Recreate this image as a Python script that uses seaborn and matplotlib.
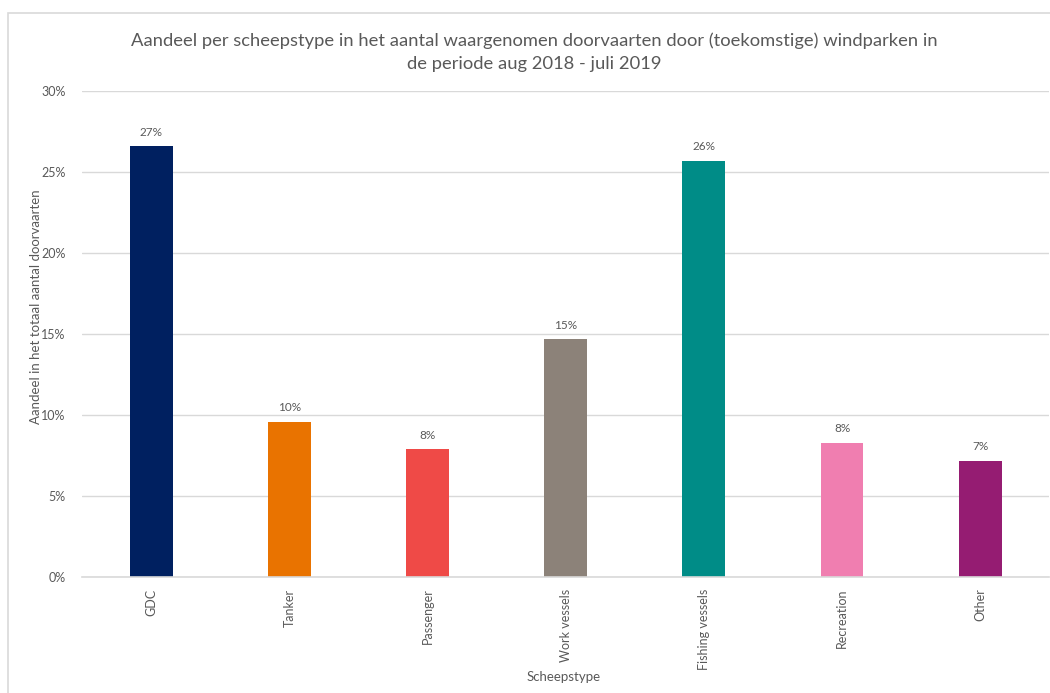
import matplotlib
matplotlib.use("Agg")
import matplotlib.pyplot as plt
import matplotlib.patches as mpatches
from matplotlib.ticker import PercentFormatter, MultipleLocator
import seaborn as sns
import pandas as pd

# Share of observed wind-farm transits per ship type (percent)
ship_types = ["GDC", "Tanker", "Passenger", "Work vessels",
              "Fishing vessels", "Recreation", "Other"]
shares = [26.6, 9.6, 7.9, 14.7, 25.7, 8.3, 7.2]
bar_colors = ["#002060", "#E97300", "#EF4A47", "#8C8279",
              "#008C87", "#F07EB0", "#951C72"]

title = ("Aandeel per scheepstype in het aantal waargenomen doorvaarten door "
         "(toekomstige) windparken in\nde periode aug 2018 - juli 2019")
y_label = "Aandeel in het totaal aantal doorvaarten"
x_label = "Scheepstype"

sns.set_theme(style="white")
plt.rcParams["font.family"] = ["Lato", "DejaVu Sans"]

text_grey = "#595959"
grid_grey = "#D9D9D9"

df = pd.DataFrame({"type": ship_types, "share": shares})

fig = plt.figure(figsize=(10.5, 6.93), dpi=100)
ax = fig.add_axes([0.0785, 0.167, 0.9207, 0.702])

sns.barplot(data=df, x="type", y="share", hue="type", palette=bar_colors,
            order=ship_types, hue_order=ship_types, dodge=False,
            legend=False, width=0.31, saturation=1, linewidth=0, ax=ax)

ax.set_ylim(0, 30)
ax.set_xlim(-0.5, len(ship_types) - 0.5)
ax.yaxis.set_major_locator(MultipleLocator(5))
ax.yaxis.set_major_formatter(PercentFormatter(decimals=0))
ax.grid(axis="y", color=grid_grey, linewidth=1)
ax.set_axisbelow(True)
for side in ("top", "right", "left"):
    ax.spines[side].set_visible(False)
ax.spines["bottom"].set_color(grid_grey)
ax.spines["bottom"].set_linewidth(1.2)

ax.tick_params(axis="y", length=0, pad=12, labelsize=9, labelcolor=text_grey)
ax.tick_params(axis="x", length=0, pad=8, labelsize=9, labelcolor=text_grey,
               labelrotation=90)

for container in ax.containers:
    ax.bar_label(container, fmt=lambda v: f"{v:.0f}%", padding=6,
                 fontsize=8.5, color=text_grey)

ax.set_xlabel("")
ax.set_ylabel("")
fig.text(0.5365, 0.023, x_label, ha="center", va="center",
         fontsize=9.5, color=text_grey)
fig.text(0.034, 0.557, y_label, ha="center", va="center", rotation=90,
         fontsize=9.5, color=text_grey)
fig.text(0.509, 0.925, title, ha="center", va="center", fontsize=13.2,
         color=text_grey, linespacing=1.5)

# light chart-area frame
fig.patches.append(mpatches.Rectangle(
    (7.5 / 1050, -0.01), 1.02, (693 - 13.5) / 693 + 0.01,
    transform=fig.transFigure, fill=False, edgecolor=grid_grey,
    linewidth=1.2))

fig.savefig("out.png", dpi=100, facecolor="white")
